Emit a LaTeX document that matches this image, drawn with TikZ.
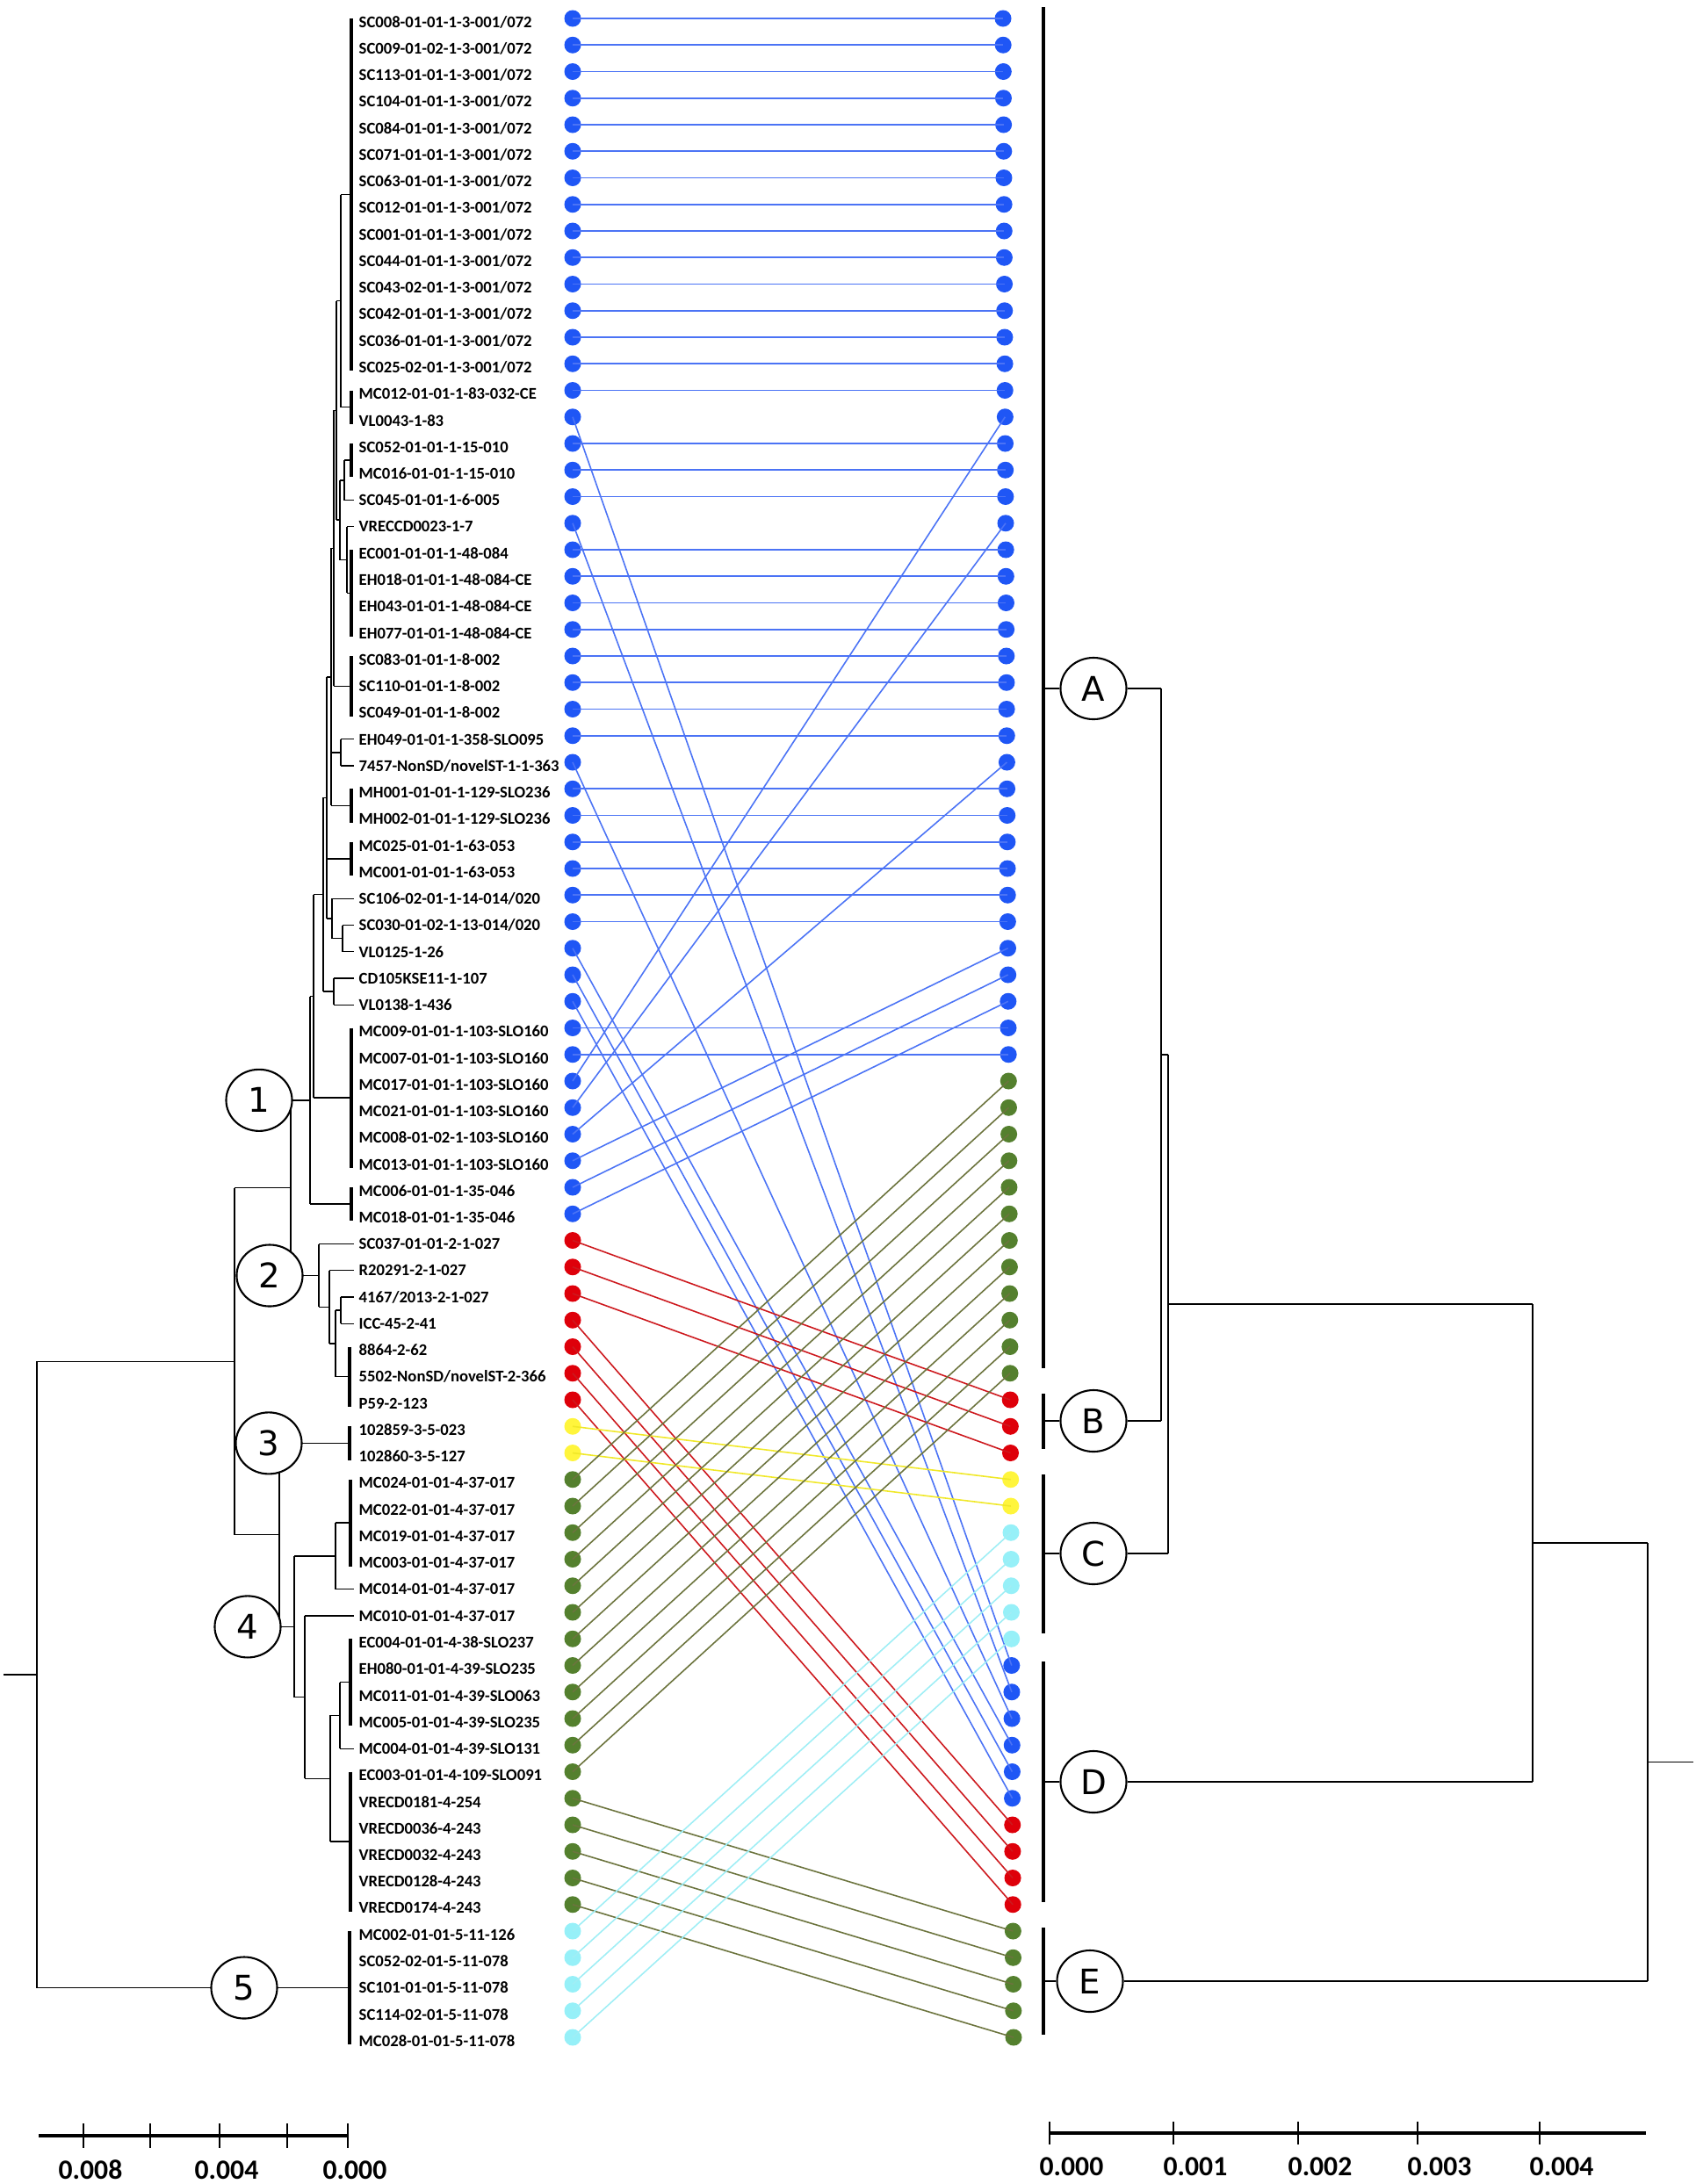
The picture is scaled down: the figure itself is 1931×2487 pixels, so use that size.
\documentclass[tikz,border=0pt]{standalone}
\usepackage{fontspec}
\setmainfont{Carlito}
\newfontfamily\circfont{DejaVu Sans}
\usetikzlibrary{shapes.geometric, positioning}
\definecolor{dotblue}{RGB}{31,86,245}
\definecolor{lnblue}{RGB}{75,115,245}
\definecolor{dotred}{RGB}{222,0,10}
\definecolor{lnred}{RGB}{205,25,30}
\definecolor{dotyellow}{RGB}{255,245,60}
\definecolor{lnyellow}{RGB}{240,232,40}
\definecolor{dotgreen}{RGB}{84,128,46}
\definecolor{lngreen}{RGB}{108,116,62}
\definecolor{dotcyan}{RGB}{150,240,248}
\definecolor{lncyan}{RGB}{160,238,245}
% right-hand partner of every left dot
\def\rmap{{0,1,2,3,4,5,6,7,8,9,10,11,12,13,14,15,63,17,18,19,64,21,22,23,24,25,26,27,28,65,30,31,32,33,34,35,66,67,68,39,40,16,20,29,36,37,38,53,54,55,69,70,71,72,56,57,41,42,43,44,45,46,47,48,49,50,51,52,73,74,75,76,77,58,59,60,61,62}}

\begin{document}
\begin{tikzpicture}[x=0.01cm, y=-0.01cm,
    declare function={ry(\n)=21+(\n-1)*30.25; ty(\n)=25+(\n-1)*30.25; rx(\n)=1142+(\n-1)*12/76;},
    dot/.style={circle, inner sep=0pt, minimum size=0.19cm},
    link/.style={line width=0.45pt},
    vline/.style={line width=0.8pt},
    hline/.style={line width=0.4pt},
    cbar/.style={line width=1pt},
    rbar/.style={line width=1.3pt},
    clu/.style={ellipse, draw, fill=white, line width=0.6pt, minimum width=0.75cm, minimum height=0.70cm, inner sep=0pt, font=\circfont\fontsize{11}{11}\selectfont},
    tip/.style={anchor=west, inner sep=0pt, font=\bfseries\fontsize{5.3}{6}\selectfont},
    scl/.style={inner sep=0pt, font=\bfseries\fontsize{9}{9}\selectfont}
]
    \useasboundingbox (0,0) rectangle (1931,2487);

    % left tree: collapsed clades
    \foreach \x/\a/\b in {400/1/14, 400/15/16, 400/17/18, 400/21/24, 400/25/27, 400/30/31, 400/32/33, 400/39/44, 400/45/46, 398/51/53, 398/54/55, 399/56/59, 399/62/65, 399/67/72, 398/73/77}
        \draw[cbar] (\x,{ty(\a)-4}) -- (\x,{ty(\b)+4});
    % left tree: internal nodes
    \foreach \x/\a/\b in {388/7.5/15.5, 392/17.5/19, 395/20/22.5, 387/18.25/21.25, 383/11.5/19.75, 380/15.625/26, 388/28/29, 377/20.8125/30.5, 390/35/36, 378/34/35.5, 372/25.656/34.75, 380/37/38, 368/30.203/37.5, 357/33.85/41.5, 353/37.68/45.5, 331/41.59/48.19, 388/49/50, 382/49.5/52, 375/48/50.75, 363/47/49.375, 382/57.5/60, 387/63.5/66, 376/64.75/69.5, 347/61/67.125, 335/58.75/64.06, 318/54.5/61.41, 267/44.89/57.95, 42/51.42/75}
        \draw[vline] (\x,{ty(\a)}) -- (\x,{ty(\b)});
    % left tree: branches
    \foreach \a/\b/\r in {388/400/7.5, 388/400/15.5, 392/400/17.5, 392/403/19, 395/403/20, 395/400/22.5, 387/392/18.25, 387/395/21.25,
        383/388/11.5, 383/387/19.75, 380/383/15.625, 380/400/26, 377/380/20.8125, 377/388/28.5, 377/400/30.5, 388/403/28, 388/403/29,
        372/377/25.656, 372/400/32.5, 372/378/34.75, 378/403/34, 378/390/35.5, 390/403/35, 390/403/36, 368/372/30.203, 368/380/37.5,
        380/403/37, 380/403/38, 357/368/33.85, 357/400/41.5, 353/357/37.68, 353/400/45.5, 331/353/41.59, 331/363/48.19,
        363/403/47, 363/375/49.375, 375/403/48, 375/382/50.75, 382/388/49.5, 382/398/52, 388/403/49, 388/403/50,
        267/331/44.89, 267/318/57.95, 318/398/54.5, 318/335/61.41, 335/382/58.75, 335/347/64.06, 382/399/57.5, 382/403/60,
        347/403/61, 347/376/67.125, 376/387/64.75, 376/399/69.5, 387/399/63.5, 387/403/66, 42/267/51.42, 42/398/75, 4/42/63.21}
        \draw[hline] (\a,{ty(\r)}) -- (\b,{ty(\r)});

    \node[clu] (c1) at (295,{ty(41.59)}) {1};
    \node[clu] (c2) at (307,{ty(48.19)}) {2};
    \node[clu] (c3) at (306,{ty(54.5)}) {3};
    \node[clu] (c4) at (282,{ty(61.41)}) {4};
    \node[clu] (c5) at (278,{ty(75)}) {5};

    \foreach \t [count=\i] in {SC008-01-01-1-3-001/072, SC009-01-02-1-3-001/072, SC113-01-01-1-3-001/072, SC104-01-01-1-3-001/072,
        SC084-01-01-1-3-001/072, SC071-01-01-1-3-001/072, SC063-01-01-1-3-001/072, SC012-01-01-1-3-001/072, SC001-01-01-1-3-001/072,
        SC044-01-01-1-3-001/072, SC043-02-01-1-3-001/072, SC042-01-01-1-3-001/072, SC036-01-01-1-3-001/072, SC025-02-01-1-3-001/072,
        MC012-01-01-1-83-032-CE, VL0043-1-83, SC052-01-01-1-15-010, MC016-01-01-1-15-010, SC045-01-01-1-6-005, VRECCD0023-1-7,
        EC001-01-01-1-48-084, EH018-01-01-1-48-084-CE, EH043-01-01-1-48-084-CE, EH077-01-01-1-48-084-CE, SC083-01-01-1-8-002,
        SC110-01-01-1-8-002, SC049-01-01-1-8-002, EH049-01-01-1-358-SLO095, 7457-NonSD/novelST-1-1-363, MH001-01-01-1-129-SLO236,
        MH002-01-01-1-129-SLO236, MC025-01-01-1-63-053, MC001-01-01-1-63-053, SC106-02-01-1-14-014/020, SC030-01-02-1-13-014/020,
        VL0125-1-26, CD105KSE11-1-107, VL0138-1-436, MC009-01-01-1-103-SLO160, MC007-01-01-1-103-SLO160, MC017-01-01-1-103-SLO160,
        MC021-01-01-1-103-SLO160, MC008-01-02-1-103-SLO160, MC013-01-01-1-103-SLO160, MC006-01-01-1-35-046, MC018-01-01-1-35-046,
        SC037-01-01-2-1-027, R20291-2-1-027, 4167/2013-2-1-027, ICC-45-2-41, 8864-2-62, 5502-NonSD/novelST-2-366, P59-2-123,
        102859-3-5-023, 102860-3-5-127, MC024-01-01-4-37-017, MC022-01-01-4-37-017, MC019-01-01-4-37-017, MC003-01-01-4-37-017,
        MC014-01-01-4-37-017, MC010-01-01-4-37-017, EC004-01-01-4-38-SLO237, EH080-01-01-4-39-SLO235, MC011-01-01-4-39-SLO063,
        MC005-01-01-4-39-SLO235, MC004-01-01-4-39-SLO131, EC003-01-01-4-109-SLO091, VRECD0181-4-254, VRECD0036-4-243,
        VRECD0032-4-243, VRECD0128-4-243, VRECD0174-4-243, MC002-01-01-5-11-126, SC052-02-01-5-11-078, SC101-01-01-5-11-078,
        SC114-02-01-5-11-078, MC028-01-01-5-11-078}
        \node[tip] (t\i) at (408,{ty(\i)}) {\t};

    % tanglegram links
    \foreach \i in {1,...,77}
    {
        \pgfmathtruncatemacro\j{\rmap[\i]}
        \ifnum\i<47 \def\cl{blue}\else
            \ifnum\i<54 \def\cl{red}\else
                \ifnum\i<56 \def\cl{yellow}\else
                    \ifnum\i<73 \def\cl{green}\else \def\cl{cyan}\fi
                \fi
            \fi
        \fi
        \node[dot, fill=dot\cl] (L\i) at (652,{ry(\i)}) {};
        \node[dot, fill=dot\cl] (R\j) at ({rx(\j)},{ry(\j)}) {};
        \draw[link, draw=ln\cl] (L\i.center) -- (R\j.center);
    };

    % right tree
    \foreach \a/\b in {8/1558, 1587/1650, 1679/1860, 1892/2166, 2195/2317}
        \draw[rbar] (1188,\a) -- (1188,\b);
    \node[clu] (cA) at (1245,784) {A};
    \node[clu] (cB) at (1245,1618) {B};
    \node[clu] (cC) at (1245,1769) {C};
    \node[clu] (cD) at (1245,2029) {D};
    \node[clu] (cE) at (1241,2256) {E};
    \foreach \c/\y/\x in {A/784/1322, B/1618/1322, C/1769/1330, D/2029/1745, E/2256/1876}
    {
        \draw[hline] (1188,\y) -- (c\c);
        \draw[hline] (c\c) -- (\x,\y);
    };
    \draw[vline] (1322,784) -- (1322,1618);
    \draw[hline] (1322,1201) -- (1330,1201);
    \draw[vline] (1330,1201) -- (1330,1769);
    \draw[hline] (1330,1485) -- (1745,1485);
    \draw[vline] (1745,1485) -- (1745,2029);
    \draw[hline] (1745,1757) -- (1876,1757);
    \draw[vline] (1876,1757) -- (1876,2256);
    \draw[hline] (1876,2006.5) -- (1928,2006.5);

    % scale bars
    \draw[line width=1pt] (44,2432) -- (396,2432);
    \foreach \x in {95,171,250,327,396}
        \draw[line width=0.5pt] (\x,2418) -- (\x,2446);
    \node[scl] (sl8) at (103,2471) {0.008};
    \node[scl] (sl4) at (258,2471) {0.004};
    \node[scl] (sl0) at (404,2471) {0.000};
    \draw[line width=1pt] (1195,2429) -- (1874,2429);
    \foreach \x/\v [count=\k] in {1195/0.000, 1336/0.001, 1478/0.002, 1614/0.003, 1753/0.004}
    {
        \draw[line width=0.5pt] (\x,2416) -- (\x,2442);
        \node[scl] (sr\k) at (\x+25,2467) {\v};
    };
\end{tikzpicture}
\end{document}
